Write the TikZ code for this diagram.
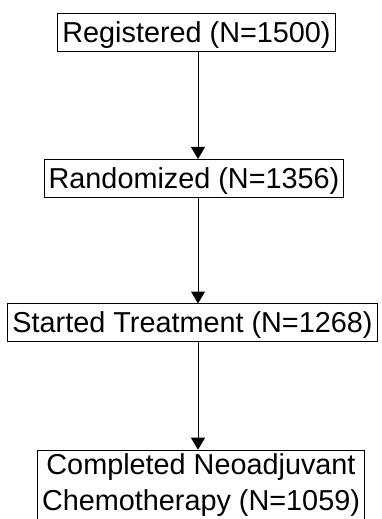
\documentclass[tikz,border=0pt]{standalone}
\usepackage{fontspec}
\setmainfont{Liberation Sans}
\usetikzlibrary{arrows.meta}

\begin{document}
\begin{tikzpicture}[
            stage/.style={draw, line width=0.02cm, inner xsep=0.09cm, inner ysep=0.06cm,
                text height=0.52cm, text depth=0.12cm, anchor=north,
                font=\fontsize{16.4}{21}\selectfont},
            flow/.style={line width=0.02cm, -{Triangle[width=0.28cm,length=0.24cm]}},
            x=0.02cm, y=-0.02cm]

        \useasboundingbox (0,0) rectangle (381,519);

        \node[stage] (reg) at (196.5,13.3) {Registered (N=1500)};
        \node[stage] (rand) at (194,159) {Randomized (N=1356)};
        \node[stage] (treat) at (192.5,303.5) {Started Treatment (N=1268)};
        \node[stage, align=center, text height=, text depth=] (chemo) at (201,449.7)
            {Completed Neoadjuvant\\Chemotherapy (N=1059)};

        \coordinate (spine) at (198,0);

        \draw[flow] (reg.south -| spine) -- (rand.north -| spine);
        \draw[flow] (rand.south -| spine) -- (treat.north -| spine);
        \draw[flow] (treat.south -| spine) -- (chemo.north -| spine);
    \end{tikzpicture}
\end{document}
